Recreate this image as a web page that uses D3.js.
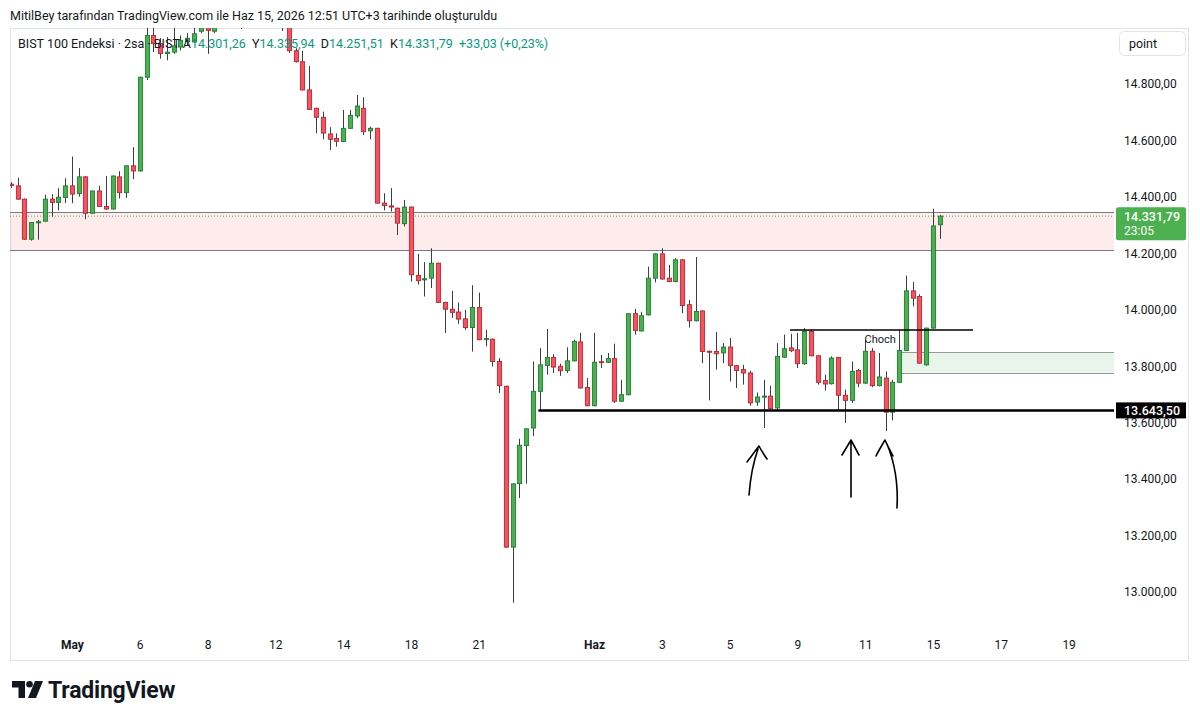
<!DOCTYPE html>
<html><head><meta charset="utf-8">
<script src="https://cdn.jsdelivr.net/npm/d3@7"></script>
<style>
body{margin:0;background:#fff;}
svg{display:block;font-family:Roboto,"Noto Sans",sans-serif;}
</style>
</head><body>
<svg id="chart" width="1200" height="721"></svg>
<script>
// ---- DATA (2-hour candles) ----
const opens = [14445,14439,14392,14250,14308,14314,14392,14380,14398,14439,
14412,14471,14342,14421,14366,14357,14471,14415,14510,14492,
14824,14972,14943,14908,14913,14931,14950,14949,14987,15000,
14987,15010,15045,15030,15060,15040,15085,15070,15095,15080,
15050,15010,14918,14879,14779,14714,14682,14623,14607,14596,
14643,14687,14714,14634,14643,14378,14368,14360,14305,14364,
14122,14106,14112,14165,14026,14002,13992,13968,13937,14008,
13894,13896,13817,13729,13159,13384,13519,13581,13711,13803,
13831,13800,13785,13819,13886,13725,13660,13816,13814,13827,
13676,13699,13986,13925,13982,14112,14198,14112,14100,14177,
14018,13961,13996,13853,13852,13847,13868,13802,13788,13776,
13673,13691,13694,13652,13832,13865,13858,13809,13923,13837,
13749,13738,13831,13697,13679,13785,13740,13853,13731,13758,
13637,13743,13856,14067,14047,13805,13935,14301.26];
const highs = [14452,14468,14394,14310,14318,14408,14410,14431,14466,14543,
14502,14473,14421,14439,14474,14476,14491,14512,14576,14826,
15002,15002,14963,14966,14998,14972,14980,15005,15015,15020,
15010,15060,15080,15070,15090,15100,15120,15110,15130,15100,
15060,15020,14927,14918,14864,14716,14702,14647,14625,14708,
14708,14761,14753,14649,14645,14413,14431,14362,14389,14366,
14198,14169,14218,14167,14028,14067,14026,14000,14087,14061,
13929,13898,13829,13731,13385,13543,13580,13817,13864,13932,
13843,13809,13867,13894,13918,13758,13918,13840,13847,13880,
13752,13988,14003,13993,14153,14200,14218,14159,14183,14179,
14035,14187,13998,13855,13921,13882,13900,13803,13805,13784,
13707,13752,13731,13882,13912,13915,13918,13935,13929,13839,
13770,13835,13833,13717,13817,13790,13894,13864,13847,13782,
13752,13929,14121,14098,14055,13937,14358,14335.94];
const lows = [14432,14390,14248,14245,14248,14312,14330,14352,14378,14378,
14401,14321,14340,14366,14355,14355,14394,14396,14463,14490,
14814,14913,14890,14884,14907,14919,14935,14945,14980,14907,
14980,15005,15020,15010,14995,15020,15050,15040,15060,15030,
14988,14910,14876,14777,14708,14625,14604,14566,14578,14594,
14641,14679,14619,14604,14376,14352,14348,14265,14295,14100,
14089,14047,14077,14024,13918,13971,13950,13929,13852,13892,
13870,13799,13705,13157,12962,13333,13384,13552,13643.5,13770,
13776,13766,13776,13817,13721,13658,13658,13794,13811,13670,
13674,13697,13912,13923,13980,14097,14107,14098,14098,13988,
13937,13959,13811,13679,13788,13811,13746,13723,13735,13660,
13660,13581,13646,13648,13830,13850,13794,13805,13835,13735,
13714,13735,13646,13599,13670,13726,13738,13726,13729,13570,
13608,13741,13854,14012,13809,13802,13933,14251.51];
const closes = [14440,14392,14250,14309,14312,14392,14380,14399,14439,14410,
14471,14342,14421,14366,14357,14474,14415,14510,14492,14824,
14972,14943,14908,14913,14935,14955,14962,14978,15000,14990,
15002,15045,15030,15060,15040,15085,15070,15095,15080,15050,
15010,14918,14879,14779,14710,14682,14626,14604,14597,14643,
14689,14722,14631,14643,14378,14369,14364,14307,14364,14124,
14103,14110,14165,14026,14002,13991,13967,13937,14008,13894,
13898,13817,13731,13159,13383,13520,13578,13711,13805,13831,
13797,13784,13819,13888,13723,13660,13814,13813,13827,13676,
13699,13986,13927,13979,14112,14198,14109,14100,14177,14015,
13961,13994,13852,13850,13844,13868,13802,13785,13776,13670,
13691,13694,13650,13835,13862,13855,13809,13923,13837,13743,
13737,13829,13697,13679,13782,13740,13853,13731,13762,13637,
13743,13856,14067,14041,13811,13935,14297,14331.79];

const dayLabels   = ["May","6","8","12","14","18","21","Haz","3","5","9","11","15","17","19"];
const dayLabelBar = [9,19,29,39,49,59,69,86,96,106,116,126,136,146,156];
const monthLabels = ["May","Haz"];
const priceTicks  = [13000,13200,13400,13600,13800,14000,14200,14400,14600,14800];

const redZone   = [14212, 14346];      // supply zone
const greenZone = [13777, 13850];      // demand zone, starts at bar 131
const greenZoneStart = 131;
const supportLevel = 13643.5;          // horizontal line from bar 78
const supportStart = 77.8;
const chochLevel = 13928;              // "Choch" line
const chochRange = [114.9, 141.9];

const legendParts = [
  ["BIST 100 Endeksi · 2sa · BIST ", "#131722"],
  ["A", "#131722"], ["14.301,26  ", "#089981"],
  ["Y", "#131722"], ["14.335,94  ", "#089981"],
  ["D", "#131722"], ["14.251,51  ", "#089981"],
  ["K", "#131722"], ["14.331,79  ", "#089981"],
  ["+33,03 (+0,23%)", "#089981"]
];

// ---- SCALES ----
const svg = d3.select("#chart");
const x = d3.scaleLinear().domain([0, 137]).range([10.9, 939.8]);
const y = d3.scaleLinear().domain([13000, 14800]).range([592, 84]);
const trFmt = d3.formatLocale({decimal: ",", thousands: ".", grouping: [3], currency: ["", ""]}).format(",.2f");

const plotL = 10, plotR = 1114, plotT = 28, plotB = 630;

// header
svg.append("text").attr("x", 10).attr("y", 20).attr("font-size", 12.5).attr("fill", "#131722")
  .text("MitilBey tarafından TradingView.com ile Haz 15, 2026 12:51 UTC+3 tarihinde oluşturuldu");

// outer border
svg.append("rect").attr("x", 10.5).attr("y", 28.5).attr("width", 1178).attr("height", 632)
  .attr("fill", "none").attr("stroke", "#e0e3eb");

svg.append("defs").append("clipPath").attr("id", "plotclip")
  .append("rect").attr("x", plotL).attr("y", plotT).attr("width", plotR - plotL).attr("height", plotB - plotT);

const plot = svg.append("g").attr("clip-path", "url(#plotclip)");

// red zone
plot.append("rect").attr("x", plotL).attr("width", plotR - plotL)
  .attr("y", y(redZone[1])).attr("height", y(redZone[0]) - y(redZone[1]))
  .attr("fill", "rgba(242,54,69,0.10)");
redZone.forEach(v => plot.append("line").attr("x1", plotL).attr("x2", plotR)
  .attr("y1", Math.round(y(v)) + 0.5).attr("y2", Math.round(y(v)) + 0.5).attr("stroke", "#787b86").attr("stroke-width", 1));

// green zone
plot.append("rect").attr("x", x(greenZoneStart)).attr("width", plotR - x(greenZoneStart))
  .attr("y", y(greenZone[1])).attr("height", y(greenZone[0]) - y(greenZone[1]))
  .attr("fill", "rgba(76,175,80,0.12)");
greenZone.forEach(v => plot.append("line").attr("x1", x(greenZoneStart)).attr("x2", plotR)
  .attr("y1", Math.round(y(v)) + 0.5).attr("y2", Math.round(y(v)) + 0.5).attr("stroke", "#9598a1").attr("stroke-width", 1));

// last price dotted line
const lastClose = closes[closes.length - 1];
plot.append("line").attr("x1", plotL).attr("x2", plotR)
  .attr("y1", y(lastClose)).attr("y2", y(lastClose))
  .attr("stroke", "#4caf50").attr("stroke-width", 1).attr("stroke-dasharray", "1,2");

// candles
const data = opens.map((o, i) => ({i, o, h: highs[i], l: lows[i], c: closes[i]}));
const bodyW = 4.2;
const cg = plot.append("g");
cg.selectAll("line.wick").data(data).join("line").attr("class", "wick")
  .attr("x1", d => Math.round(x(d.i)) + 0.5).attr("x2", d => Math.round(x(d.i)) + 0.5)
  .attr("y1", d => y(d.h)).attr("y2", d => y(d.l))
  .attr("stroke", "#3b3d45").attr("stroke-width", 1);
cg.selectAll("rect.body").data(data).join("rect").attr("class", "body")
  .attr("x", d => Math.round(x(d.i)) + 0.5 - bodyW / 2)
  .attr("width", bodyW)
  .attr("y", d => y(Math.max(d.o, d.c)))
  .attr("height", d => Math.max(1, y(Math.min(d.o, d.c)) - y(Math.max(d.o, d.c))))
  .attr("fill", d => d.c >= d.o ? "#4caf50" : "#f7525f")
  .attr("stroke", d => d.c >= d.o ? "#1e7b34" : "#b22833")
  .attr("stroke-width", 0.9);

// support line
plot.append("line").attr("x1", x(supportStart)).attr("x2", plotR)
  .attr("y1", y(supportLevel)).attr("y2", y(supportLevel))
  .attr("stroke", "#000").attr("stroke-width", 2.5);

// choch line
plot.append("line").attr("x1", x(chochRange[0])).attr("x2", x(chochRange[1]))
  .attr("y1", y(chochLevel)).attr("y2", y(chochLevel))
  .attr("stroke", "#000").attr("stroke-width", 1.5);
plot.append("text").attr("x", x(128.2)).attr("y", y(chochLevel) + 12.5)
  .attr("text-anchor", "middle").attr("font-size", 11).attr("fill", "#131722").text("Choch");

// hand drawn arrows
const arrows = [
  "M749,495 C750,482 752,466 758,449 M747,462 C751,457 755,451 759,446 C762,452 765,456 767,459",
  "M851,497 L851,441 M842,455 L851,440 L859,455",
  "M897,508 C898,490 897,468 887,444 M876,456 C879,450 882,445 885,440 C888,447 891,452 893,456"
];
plot.selectAll("path.arrow").data(arrows).join("path").attr("class", "arrow")
  .attr("d", d => d).attr("fill", "none").attr("stroke", "#000").attr("stroke-width", 1.6)
  .attr("stroke-linecap", "round").attr("stroke-linejoin", "round");

// legend
const leg = svg.append("text").attr("x", 18).attr("y", 48).attr("font-size", 12.5);
legendParts.forEach(([t, c]) => leg.append("tspan").attr("fill", c).attr("xml:space", "preserve").text(t));
leg.attr("style", "white-space:pre");

// price axis
const axisG = svg.append("g").attr("transform", "translate(1124,0)");
const yAxis = d3.axisRight(y).tickValues(priceTicks).tickFormat(trFmt).tickSize(0).tickPadding(0);
axisG.call(yAxis);
axisG.select(".domain").remove();
axisG.selectAll("text").attr("font-size", 12).attr("fill", "#131722").attr("font-family", "Roboto, 'Noto Sans', sans-serif");

// point button
svg.append("rect").attr("x", 1119.5).attr("y", 31.5).attr("width", 66).attr("height", 24).attr("rx", 5)
  .attr("fill", "#fff").attr("stroke", "#e0e3eb");
svg.append("text").attr("x", 1143).attr("y", 48).attr("text-anchor", "middle").attr("font-size", 12.5)
  .attr("fill", "#131722").text("point");

// last price label
const ly = y(lastClose);
svg.append("rect").attr("x", 1116).attr("y", ly - 9).attr("width", 70).attr("height", 33).attr("rx", 2).attr("fill", "#4caf50");
svg.append("text").attr("x", 1124).attr("y", ly + 4.5).attr("font-size", 12.5).attr("font-weight", 500).attr("fill", "#fff").text(trFmt(lastClose));
svg.append("text").attr("x", 1124).attr("y", ly + 19).attr("font-size", 12).attr("fill", "#fff").text("23:05");

// support label
const sy = y(supportLevel);
svg.append("rect").attr("x", 1116).attr("y", sy - 8).attr("width", 70).attr("height", 16).attr("fill", "#000");
svg.append("text").attr("x", 1124).attr("y", sy + 4.5).attr("font-size", 12.5).attr("font-weight", 500).attr("fill", "#fff").text(trFmt(supportLevel));

// time axis
const tG = svg.append("g").attr("transform", "translate(0,640)");
const xAxis = d3.axisBottom(x).tickValues(dayLabelBar).tickFormat((d, k) => dayLabels[k]).tickSize(0).tickPadding(0);
tG.call(xAxis);
tG.select(".domain").remove();
tG.selectAll("text").attr("font-size", 12).attr("fill", "#131722")
  .attr("font-family", "Roboto, 'Noto Sans', sans-serif")
  .attr("font-weight", (d, k) => monthLabels.includes(dayLabels[k]) ? 700 : 400);

// TradingView logo
const logo = svg.append("g").attr("transform", "translate(12,681)").attr("fill", "#131722");
logo.append("path").attr("d", "M0,0 H13 V17 H6.5 V6.5 H0 Z");
logo.append("circle").attr("cx", 17.5).attr("cy", 3.3).attr("r", 3.3);
logo.append("path").attr("d", "M23,0 H31 L24,17 H16 Z");
svg.append("text").attr("x", 48).attr("y", 698).attr("font-size", 23).attr("font-weight", 700)
  .attr("fill", "#131722").attr("letter-spacing", -0.2).text("TradingView");
</script>
</body></html>
